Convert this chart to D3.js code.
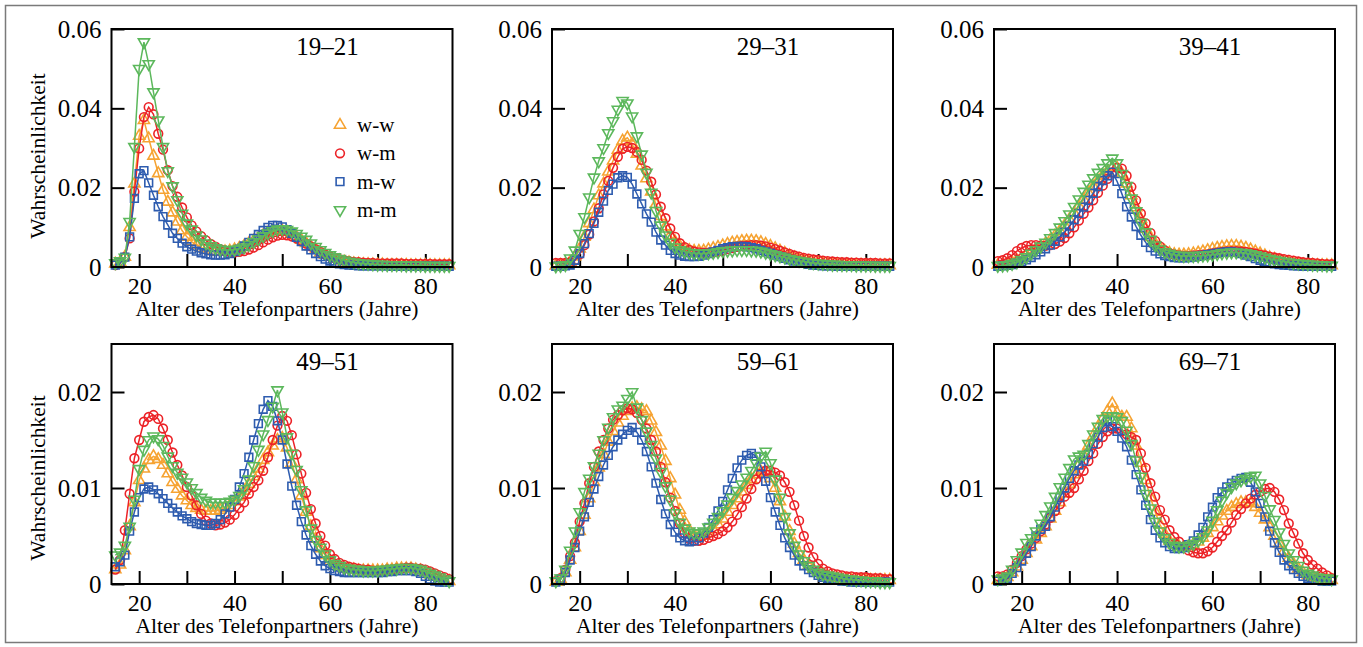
<!DOCTYPE html>
<html>
<head>
<meta charset="utf-8">
<script src="https://cdn.jsdelivr.net/npm/d3@7"></script>
<style>
  body { margin: 0; background: #fff; }
</style>
</head>
<body>
<div id="chart"></div>
<script>
// x: Alter des Telefonpartners, one point per year
var ages = d3.range(15, 86);

var seriesNames = ["w-w", "w-m", "m-w", "m-m"];
var seriesColors = ["#f6a332", "#ec2227", "#2e5caf", "#5cb85c"];
var panelTitles = ["19–21", "29–31", "39–41", "49–51", "59–61", "69–71"];

var xTicks = [20, 30, 40, 50, 60, 70, 80];
var xTickLabels = ["20", "", "40", "", "60", "", "80"];
var yMaxByRow = [0.06, 0.025];
var yTicksByRow = [[0, 0.02, 0.04, 0.06], [0, 0.01, 0.02]];
var yTickLabelsByRow = [["0", "0.02", "0.04", "0.06"], ["0", "0.01", "0.02"]];

// values below are in units of 0.001 (ages 15..85, ten per line)
var ww19 = [0.8,1.2,2.5,10,21,33,37,32.4,28,23.6,
  19.4,16.4,13.7,11.4,9.2,7.6,6.4,5.5,4.8,4.3,
  4.0,3.8,3.8,3.9,4.1,4.4,4.8,5.3,5.9,6.6,
  7.3,8.0,8.6,9.0,9.2,9.1,8.8,8.3,7.6,6.8,
  6.0,5.1,4.3,3.6,3.0,2.5,2.0,1.6,1.3,1.1,
  0.9,0.8,0.7,0.7,0.6,0.6,0.6,0.5,0.5,0.5,
  0.5,0.5,0.4,0.4,0.4,0.4,0.4,0.4,0.4,0.4,0.4];
var wm19 = [0.5,1.0,2.5,7.2,19,29.9,37.8,40.3,38.5,33.6,
  29.6,24.4,20.4,17.7,15,12.5,10.5,9,7.8,6.7,
  5.8,5.1,4.5,4.1,3.8,3.7,3.8,4.0,4.4,4.9,
  5.5,6.2,6.9,7.5,7.9,8.1,8.0,7.7,7.2,6.6,
  5.9,5.2,4.5,3.8,3.2,2.7,2.3,2.0,1.7,1.5,
  1.3,1.2,1.1,1.0,1.0,0.9,0.9,0.9,0.9,0.9,
  0.9,0.8,0.8,0.8,0.8,0.8,0.8,0.7,0.7,0.7,0.7];
var mw19 = [0.5,1.0,2.5,7.6,17.3,23.5,24.3,21.2,18.1,15.2,
  12.7,10.6,8.5,7.2,6.0,5.1,4.5,4.0,3.6,3.3,
  3.1,3.0,3.0,3.1,3.4,3.9,4.5,5.3,6.2,7.2,
  8.2,9.2,10.0,10.5,10.5,10.1,9.4,8.5,7.5,6.4,
  5.3,4.3,3.4,2.6,2.0,1.5,1.1,0.8,0.6,0.5,
  0.4,0.3,0.3,0.3,0.3,0.3,0.3,0.3,0.2,0.2,
  0.2,0.2,0.2,0.2,0.2,0.2,0.2,0.2,0.2,0.2,0.2];
var mm19 = [1.0,1.5,2.4,11.4,30.3,50,56.7,51.2,44.1,37,
  30.3,24.2,20.4,16.9,13.5,11,9.5,8,7,6,
  5.3,4.8,4.5,4.3,4.3,4.4,4.6,5.0,5.6,6.3,
  7.0,7.8,8.5,9.1,9.5,9.6,9.4,9.0,8.4,7.7,
  6.9,6.0,5.1,4.3,3.6,3.0,2.5,2.1,1.7,1.4,
  1.2,1.0,0.9,0.8,0.7,0.6,0.6,0.5,0.5,0.5,
  0.5,0.4,0.4,0.4,0.4,0.3,0.3,0.3,0.3,0.3,0.3];

var ww29 = [0.3,0.4,0.6,1.3,2.6,4.6,7.6,11,14.5,18,
  21,24,26.8,29.5,31.8,32.6,31,28.5,25.5,22.3,
  19,15.8,12.8,10.2,8,6.4,5.3,4.6,4.2,4.0,
  4.0,4.1,4.4,4.7,5.0,5.4,5.8,6.1,6.3,6.5,
  6.6,6.6,6.5,6.2,5.8,5.3,4.7,4.1,3.5,2.9,
  2.4,2.0,1.7,1.4,1.2,1.0,0.9,0.8,0.7,0.7,
  0.6,0.6,0.5,0.5,0.5,0.5,0.4,0.4,0.4,0.4,0.4];
var wm29 = [1.0,1.0,1.0,1.2,1.7,3.2,5.5,8.2,11.5,14.8,
  18.3,21.7,25,27.8,29.8,30.3,30,29,27,24.3,
  21.5,18.3,15.2,12.3,9.7,7.6,6.0,5.0,4.3,3.9,
  3.7,3.6,3.6,3.7,3.9,4.2,4.5,4.8,5.1,5.3,
  5.4,5.5,5.5,5.4,5.2,4.9,4.5,4.1,3.7,3.3,
  2.9,2.6,2.3,2.1,1.9,1.8,1.6,1.5,1.4,1.3,
  1.2,1.2,1.1,1.1,1.0,1.0,1.0,1.0,0.9,0.9,0.9];
var mw29 = [0.2,0.2,0.3,0.5,1.7,3.4,5.9,8.4,11.0,13.8,
  16.6,19.3,20.9,22.5,23,22.6,20.9,18.4,15.9,13.4,
  11.3,8.8,6.8,5.5,4.2,3.4,3.0,2.7,2.6,2.6,
  2.7,3.0,3.4,3.8,4.2,4.6,4.9,5.1,5.2,5.2,
  5.1,4.9,4.6,4.2,3.8,3.4,3.0,2.6,2.2,1.8,
  1.5,1.2,0.9,0.7,0.5,0.4,0.3,0.3,0.3,0.2,
  0.2,0.2,0.2,0.2,0.2,0.2,0.2,0.2,0.2,0.2,0.2];
var mm29 = [0.2,0.3,0.5,2.2,4.2,8.4,12.6,17.6,22.6,26.7,
  30,33.8,36.8,39.7,41.9,41.3,38,33,28.4,23.8,
  18.8,14.2,10.5,8,6.2,5.0,4.3,3.9,3.6,3.5,
  3.4,3.4,3.5,3.6,3.8,4.0,4.1,4.2,4.3,4.3,
  4.3,4.2,4.1,3.9,3.6,3.3,3.0,2.7,2.4,2.1,
  1.8,1.6,1.4,1.2,1.0,0.9,0.8,0.7,0.6,0.6,
  0.5,0.5,0.5,0.4,0.4,0.4,0.4,0.3,0.3,0.3,0.3];

var ww39 = [0.5,0.6,0.8,1.2,1.7,2.3,3.0,3.7,4.4,5.1,
  5.9,6.8,7.9,9.1,10.5,12.0,13.6,15.3,17.0,18.7,
  20.3,21.8,23.1,24.2,25.0,25.0,23.5,21.0,18.0,15.0,
  12.1,9.6,7.5,5.9,4.8,4.0,3.5,3.2,3.1,3.1,
  3.2,3.4,3.6,3.9,4.2,4.5,4.8,5.0,5.2,5.3,
  5.3,5.1,4.8,4.4,3.9,3.4,2.9,2.4,2.0,1.6,
  1.3,1.1,0.9,0.7,0.6,0.5,0.5,0.4,0.4,0.4,0.4];
var wm39 = [1.5,1.7,2.2,3.0,4.0,4.8,5.3,5.5,5.5,5.4,
  5.4,5.5,5.8,6.4,7.3,8.5,10.0,11.7,13.4,15.0,
  16.8,18.7,20.5,22.2,23.8,25.0,24.8,23.0,20.2,16.8,
  13.5,11.0,8.6,6.6,5.2,4.2,3.5,3.1,2.9,2.8,
  2.8,2.9,3.0,3.1,3.2,3.4,3.6,3.8,3.9,4.0,
  4.0,3.9,3.8,3.6,3.4,3.1,2.9,2.6,2.4,2.2,
  2.0,1.8,1.6,1.4,1.2,1.1,1.0,0.9,0.8,0.7,0.7];
var mw39 = [0.2,0.3,0.4,0.6,0.9,1.3,1.8,2.4,3.1,3.8,
  4.6,5.5,6.5,7.6,8.8,10.3,11.9,13.5,15.1,16.8,
  18.6,20.3,21.8,23.0,23.9,21.6,18.5,15.2,12.6,10.2,
  8.0,6.2,4.9,4.0,3.3,2.9,2.6,2.4,2.3,2.3,
  2.4,2.5,2.7,2.9,3.1,3.3,3.5,3.7,3.8,3.8,
  3.7,3.4,3.0,2.6,2.1,1.7,1.3,1.0,0.8,0.6,
  0.5,0.4,0.3,0.3,0.2,0.2,0.2,0.2,0.2,0.2,0.2];
var mm39 = [0.3,0.4,0.5,0.8,1.2,1.8,2.5,3.4,4.3,5.2,
  6.2,7.3,8.6,10.0,11.6,13.3,15.2,17.1,19.0,20.8,
  22.4,23.8,25.0,26.2,27.4,26.2,23.5,20.5,17.3,14.1,
  11.2,8.8,6.9,5.5,4.5,3.8,3.4,3.1,2.9,2.8,
  2.8,2.8,2.8,2.9,3.0,3.1,3.3,3.5,3.6,3.7,
  3.7,3.6,3.5,3.3,3.0,2.7,2.4,2.1,1.8,1.6,
  1.4,1.2,1.0,0.9,0.8,0.7,0.6,0.5,0.5,0.4,0.4];

var ww49 = [1.5,2.0,3.5,6.0,8.5,10.8,12.0,12.9,13.3,13.0,
  12.4,11.5,10.6,9.9,9.2,8.7,8.2,7.9,7.7,7.6,
  7.6,7.6,7.7,7.9,8.2,8.6,9.1,9.7,10.4,11.2,
  12.0,12.9,13.7,14.4,15.0,15.2,14.2,12.6,10.9,9.2,
  7.5,6.0,4.7,3.7,3.0,2.4,2.0,1.8,1.6,1.5,
  1.5,1.4,1.4,1.4,1.4,1.4,1.4,1.5,1.5,1.6,
  1.6,1.6,1.6,1.5,1.4,1.2,1.0,0.8,0.6,0.4,0.3];
var wm49 = [1.5,2.5,5.6,9.4,13.1,15.0,16.9,17.4,17.6,17.2,
  16.2,15.0,13.7,12.4,11.3,10.1,9.2,8.2,7.3,6.6,
  6.3,6.1,6.2,6.4,6.7,7.2,7.9,8.5,9.4,10.1,
  10.8,11.8,13.2,15.0,16.5,17.5,17.0,15.5,13.5,11.5,
  9.5,7.8,6.3,5.0,4.0,3.1,2.6,2.2,2.0,1.8,
  1.7,1.6,1.5,1.5,1.4,1.4,1.4,1.5,1.5,1.6,
  1.6,1.7,1.7,1.6,1.6,1.5,1.3,1.1,0.9,0.7,0.5];
var mw49 = [1.8,2.3,3.0,5.5,7.5,9.0,9.9,10.1,9.8,9.4,
  8.9,8.4,7.9,7.5,7.1,6.8,6.5,6.3,6.2,6.1,
  6.1,6.3,6.7,7.3,8.0,8.8,10.1,11.5,13.2,15.0,
  16.7,18.2,19.1,18.5,17.0,15.0,12.5,10.2,8.2,6.5,
  5.1,4.0,3.1,2.4,1.9,1.6,1.4,1.3,1.2,1.2,
  1.2,1.2,1.2,1.2,1.2,1.2,1.2,1.3,1.3,1.4,
  1.4,1.4,1.4,1.3,1.1,0.8,0.5,0.3,0.2,0.2,0.2];
var mm49 = [3.0,3.3,4.0,6.0,8.8,12.0,14.0,15.0,15.4,15.1,
  14.4,13.3,12.3,11.6,11.1,10.6,10.0,9.5,9.0,8.7,
  8.5,8.5,8.5,8.5,8.6,8.8,9.2,9.9,10.9,12.3,
  14.0,15.6,17.1,18.5,20.2,17.9,15.3,13.6,11.9,9.8,
  7.7,5.8,4.6,3.8,3.1,2.5,2.1,1.9,1.7,1.6,
  1.5,1.5,1.4,1.4,1.4,1.4,1.5,1.5,1.6,1.6,
  1.7,1.7,1.7,1.6,1.5,1.3,1.1,0.9,0.7,0.5,0.3];

var ww59 = [0.2,0.5,1.2,2.5,3.8,5.5,7.2,8.9,10.6,12.1,
  13.5,14.8,15.9,16.8,17.5,18.0,18.3,18.4,18.2,18.0,
  17.0,15.8,14.4,12.8,11.0,9.3,7.7,6.5,5.6,5.1,
  4.9,5.0,5.3,5.7,6.2,6.8,7.5,8.2,8.9,9.6,
  10.3,10.9,11.4,11.7,11.6,11.0,10.0,8.6,7.0,5.5,
  4.2,3.2,2.5,1.9,1.5,1.2,1.0,0.8,0.7,0.6,
  0.5,0.5,0.4,0.4,0.4,0.4,0.4,0.4,0.4,0.4,0.4];
var wm59 = [0.3,0.6,1.5,2.9,4.3,6.5,8.4,10.5,12.2,13.8,
  15.0,16.2,17.1,17.6,18.1,18.3,18.2,17.8,17.1,16.2,
  15.0,13.8,12.2,10.6,9.0,7.6,6.3,5.3,4.7,4.5,
  4.5,4.6,4.8,5.0,5.2,5.5,5.9,6.5,7.2,8.0,
  8.9,9.9,10.9,11.5,11.8,11.8,11.6,11.3,10.6,9.6,
  8.2,6.6,5.0,3.8,2.8,2.1,1.6,1.3,1.1,1.0,
  0.9,0.8,0.8,0.7,0.7,0.7,0.6,0.6,0.6,0.5,0.5];
var mw59 = [0.2,0.5,1.2,2.5,3.8,5.5,7.0,8.5,9.9,11.2,
  12.4,13.4,14.3,15.0,15.6,16.0,16.3,15.8,15.0,13.8,
  12.2,10.5,8.8,7.3,6.2,5.4,4.8,4.5,4.4,4.5,
  4.8,5.3,5.9,6.7,7.6,8.6,9.8,11.0,12.1,12.9,
  13.4,13.6,13.3,12.2,10.7,9.0,7.5,6.1,4.8,3.8,
  3.0,2.4,1.9,1.5,1.2,0.9,0.7,0.6,0.5,0.4,
  0.3,0.3,0.2,0.2,0.2,0.2,0.2,0.2,0.2,0.2,0.2];
var mm59 = [0.3,0.6,1.5,3.5,5.5,7.5,9.6,11.0,12.3,13.6,
  15.0,16.3,17.4,18.2,18.6,19.3,20.0,18.4,17.1,15.9,
  14.5,13.1,11.7,10.2,8.8,7.4,6.4,5.8,5.5,5.3,
  5.3,5.5,5.9,6.4,7.0,7.6,8.3,9.0,9.7,10.4,
  11.1,11.8,12.6,13.3,13.8,12.6,10.9,9.0,7.0,5.3,
  4.0,3.1,2.4,1.9,1.5,1.2,1.0,0.9,0.8,0.7,
  0.6,0.5,0.5,0.4,0.4,0.3,0.3,0.3,0.2,0.2,0.2];

var ww69 = [0.4,0.5,0.7,1.2,1.8,2.5,3.2,3.9,4.6,5.3,
  6.0,6.8,7.6,8.5,9.4,10.4,11.4,12.4,13.4,14.4,
  15.4,16.3,17.2,18.0,18.8,17.8,17.4,17.4,16.2,14.4,
  12.6,10.8,9.0,7.5,6.2,5.2,4.5,4.1,3.9,3.8,
  3.9,4.1,4.4,4.8,5.3,5.9,6.5,7.1,7.6,8.0,
  8.3,8.5,8.5,8.4,8.0,7.4,6.7,5.9,5.0,4.2,
  3.4,2.7,2.1,1.6,1.2,0.9,0.7,0.6,0.5,0.5,0.4];
var wm69 = [0.8,0.8,1.0,1.5,2.2,2.9,3.6,4.2,4.8,5.5,
  6.2,6.9,7.6,8.3,9.1,9.5,10.0,10.9,11.8,12.8,
  13.6,14.6,15.3,15.9,16.2,16.2,15.9,15.6,15.3,15.0,
  13.6,12.1,10.5,9.1,7.7,6.7,5.6,4.9,4.4,3.9,
  3.5,3.3,3.2,3.2,3.4,3.8,4.4,5.0,5.6,6.4,
  7.2,7.8,8.4,8.9,9.3,9.6,9.9,10.0,9.6,8.8,
  7.7,6.3,5.3,4.2,3.2,2.5,2.0,1.6,1.2,0.9,0.6];
var mw69 = [0.3,0.4,0.6,1.1,1.7,2.4,3.2,3.9,5.0,5.7,
  6.0,7.0,8.0,9.0,10.0,11.0,11.8,12.4,12.8,13.5,
  14.6,15.3,16.3,16.9,16.4,15.9,15.2,14.3,12.9,11.4,
  9.8,8.2,6.7,5.6,4.8,4.3,3.9,3.7,3.7,3.8,
  4.1,4.5,5.1,5.9,7.0,8.0,9.0,9.6,10.1,10.5,
  10.8,11.0,11.1,10.6,9.6,8.4,7.0,5.5,4.3,3.3,
  2.5,1.9,1.5,1.1,0.8,0.6,0.5,0.4,0.3,0.3,0.3];
var mm69 = [0.5,0.6,0.8,1.5,2.5,3.3,4.3,4.8,5.5,6.3,
  7.2,8.1,9.1,10.1,11.1,12.1,13.0,13.3,13.5,14.6,
  15.6,16.4,17.2,17.5,17.5,17.4,17.0,16.0,14.6,12.9,
  11.2,9.4,7.9,6.5,5.5,4.8,4.3,4.0,3.9,3.9,
  4.0,4.2,4.5,4.9,5.6,6.6,7.7,8.7,9.5,10.1,
  10.5,10.8,11.0,11.2,11.3,10.5,9.2,7.8,6.7,5.4,
  4.2,3.2,2.5,1.9,1.4,1.1,0.9,0.7,0.6,0.6,0.5];

var panelSeries = [
  [ww19, wm19, mw19, mm19],
  [ww29, wm29, mw29, mm29],
  [ww39, wm39, mw39, mm39],
  [ww49, wm49, mw49, mm49],
  [ww59, wm59, mw59, mm59],
  [ww69, wm69, mw69, mm69]
];

// layout
var width = 1363, height = 647;
var serif = "'Liberation Serif', 'Times New Roman', Times, serif";
var colLeft = [111.5, 552, 994];
var plotW = 341;
var rowTop = [29, 344];
var rowBottom = [267, 584];

var symbolTypes = [d3.symbolTriangle, d3.symbolCircle, d3.symbolSquare, d3.symbolTriangle];
var symbolRotate = [0, 0, 0, 180];
var symbolSizes = [54, 60, 60, 54];

var svg = d3.select("#chart")
  .append("svg")
  .attr("width", width)
  .attr("height", height)
  .attr("font-family", serif);

svg.append("rect")
  .attr("x", 5.5).attr("y", 5.5)
  .attr("width", 1351).attr("height", 637)
  .attr("fill", "none")
  .attr("stroke", "#7a7a7a")
  .attr("stroke-width", 1.5);

function markerPath(k) {
  return d3.symbol().type(symbolTypes[k]).size(symbolSizes[k])();
}

panelTitles.forEach(function (title, p) {
  var row = Math.floor(p / 3), col = p % 3;
  var left = colLeft[col];

  var x = d3.scaleLinear().domain([14.2, 85.7]).range([left, left + plotW]);
  var y = d3.scaleLinear().domain([0, yMaxByRow[row]]).range([rowBottom[row], rowTop[row]]);

  var g = svg.append("g").attr("class", "panel");

  // axes, ticks pointing inwards
  var xAxis = d3.axisBottom(x)
    .tickValues(xTicks)
    .tickSizeInner(-13).tickSizeOuter(0)
    .tickPadding(10)
    .tickFormat(function (d, i) { return xTickLabels[i]; });
  var gx = g.append("g")
    .attr("transform", "translate(0," + rowBottom[row] + ")")
    .call(xAxis);
  gx.select(".domain").remove();
  gx.attr("font-family", serif).attr("font-size", 24);
  gx.selectAll("text").attr("font-family", serif).attr("fill", "#000");
  gx.selectAll("line").attr("stroke", "#000").attr("stroke-width", 2);

  var yAxis = d3.axisLeft(y)
    .tickValues(yTicksByRow[row])
    .tickSizeInner(-13).tickSizeOuter(0)
    .tickPadding(10)
    .tickFormat(function (d, i) { return yTickLabelsByRow[row][i]; });
  var gy = g.append("g")
    .attr("transform", "translate(" + left + ",0)")
    .call(yAxis);
  gy.select(".domain").remove();
  gy.attr("font-family", serif).attr("font-size", 25);
  gy.selectAll("text").attr("font-family", serif).attr("fill", "#000");
  gy.selectAll("line").attr("stroke", "#000").attr("stroke-width", 2);

  // data series
  var line = d3.line()
    .x(function (d) { return x(d.age); })
    .y(function (d) { return y(d.p); });

  panelSeries[p].forEach(function (vals, k) {
    var pts = ages.map(function (a, i) { return { age: a, p: vals[i] / 1000 }; });
    var sg = g.append("g");
    sg.append("path")
      .datum(pts)
      .attr("d", line)
      .attr("fill", "none")
      .attr("stroke", seriesColors[k])
      .attr("stroke-width", 1.5);
    sg.selectAll("path.mk")
      .data(pts)
      .enter()
      .append("path")
        .attr("class", "mk")
        .attr("d", markerPath(k))
        .attr("transform", function (d) {
          return "translate(" + x(d.age) + "," + y(d.p) + ") rotate(" + symbolRotate[k] + ")";
        })
        .attr("fill", "none")
        .attr("stroke", seriesColors[k])
        .attr("stroke-width", 1.6);
  });

  // frame
  g.append("rect")
    .attr("x", left).attr("y", rowTop[row])
    .attr("width", plotW).attr("height", rowBottom[row] - rowTop[row])
    .attr("fill", "none")
    .attr("stroke", "#000")
    .attr("stroke-width", 2);

  g.append("text")
    .attr("x", left + 216)
    .attr("y", rowTop[row] + 26)
    .attr("text-anchor", "middle")
    .attr("font-size", 25)
    .text(title);

  g.append("text")
    .attr("x", left + plotW / 2 - 5)
    .attr("y", rowBottom[row] + 49)
    .attr("text-anchor", "middle")
    .attr("font-size", 21.5)
    .text("Alter des Telefonpartners (Jahre)");

  if (col === 0) {
    g.append("text")
      .attr("transform", "translate(45," + (row === 0 ? 156 : 478) + ") rotate(-90)")
      .attr("text-anchor", "middle")
      .attr("font-size", 21.5)
      .text("Wahrscheinlichkeit");
  }
});

// legend in the first panel
var legend = svg.append("g").attr("transform", "translate(340,125)");
seriesNames.forEach(function (name, k) {
  var lg = legend.append("g").attr("transform", "translate(0," + (k * 28.3) + ")");
  lg.append("path")
    .attr("d", markerPath(k))
    .attr("transform", "rotate(" + symbolRotate[k] + ")")
    .attr("fill", "none")
    .attr("stroke", seriesColors[k])
    .attr("stroke-width", 1.6);
  lg.append("text")
    .attr("x", 17)
    .attr("y", 7)
    .attr("font-size", 21)
    .text(name);
});
</script>
</body>
</html>
